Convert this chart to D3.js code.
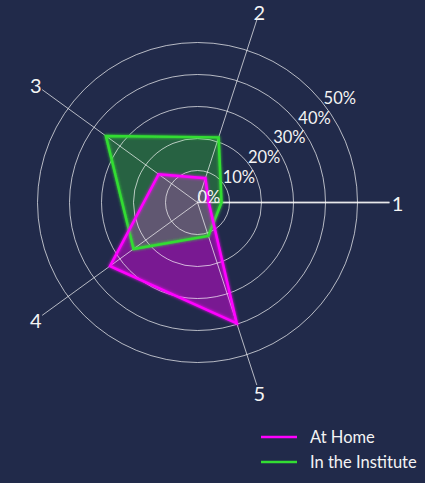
<!DOCTYPE html>
<html>
<head>
<meta charset="utf-8">
<script src="https://cdn.jsdelivr.net/npm/d3@7"></script>
<style>
  body { margin: 0; background: #212a4a; }
  svg { display: block; }
  text { font-family: Lato, "DejaVu Sans", sans-serif; fill: #f4f4f4; }
</style>
</head>
<body>
<svg id="chart"></svg>
<script>
// data (percent of answers per category)
const categories = ['1', '2', '3', '4', '5'];
const atHome = [3.5, 8, 15, 33.8, 39.7];
const inInstitute = [7.5, 21.4, 35.4, 24.7, 11];
const rTicks = [0, 10, 20, 30, 40, 50];
const seriesNames = ['At Home', 'In the Institute'];

const w = 425;
const h = 483;
const cx = 197.5;
const cy = 202.5;

const svg = d3.select('#chart').attr('width', w).attr('height', h);
svg.append('rect').attr('width', w).attr('height', h).attr('fill', '#212a4a');

// glow for the outlines
const defs = svg.append('defs');
const glow = defs.append('filter').attr('id', 'glow')
  .attr('x', '-20%').attr('y', '-20%').attr('width', '140%').attr('height', '140%');
glow.append('feGaussianBlur').attr('stdDeviation', 1.6).attr('result', 'blur');
const merge = glow.append('feMerge');
merge.append('feMergeNode').attr('in', 'blur');
merge.append('feMergeNode').attr('in', 'SourceGraphic');

// scales
const r = d3.scaleLinear().domain([0, 60]).range([0, 192]);
const angle = d3.scaleLinear().domain([0, categories.length]).range([0, 2 * Math.PI]);
// angle counterclockwise from east -> d3 radial angle (clockwise from north)
const radial = (i) => Math.PI / 2 - angle(i);

const g = svg.append('g').attr('transform', `translate(${cx},${cy})`);

// axis 1 baseline (under the fills)
g.append('line')
  .attr('x1', 0).attr('y1', 0)
  .attr('x2', r(60)).attr('y2', 0)
  .attr('stroke', '#b8b8c0')
  .attr('stroke-width', 2);

const line = d3.lineRadial()
  .angle((d, i) => radial(i))
  .radius((d) => r(d))
  .curve(d3.curveLinearClosed);

// fills
g.append('path').attr('d', line(atHome))
  .attr('fill', '#ff00ff').attr('fill-opacity', 0.4);
g.append('path').attr('d', line(inInstitute))
  .attr('fill', '#33cc33').attr('fill-opacity', 0.35);

// grid circles
g.selectAll('.ring')
  .data(rTicks.filter((d) => d > 0))
  .join('circle')
  .attr('class', 'ring')
  .attr('r', (d) => r(d))
  .attr('fill', 'none')
  .attr('stroke', '#ffffff')
  .attr('stroke-opacity', 0.85)
  .attr('stroke-width', 0.8);

// spokes
g.selectAll('.spoke')
  .data(categories)
  .join('line')
  .attr('class', 'spoke')
  .attr('x1', 0).attr('y1', 0)
  .attr('x2', (d, i) => r(60) * Math.cos(angle(i)))
  .attr('y2', (d, i) => -r(60) * Math.sin(angle(i)))
  .attr('stroke', '#ffffff')
  .attr('stroke-opacity', 0.85)
  .attr('stroke-width', 0.8);

// outlines
g.append('path').attr('d', line(inInstitute))
  .attr('fill', 'none').attr('stroke', '#33dd33').attr('stroke-width', 2.5)
  .attr('stroke-linejoin', 'miter').attr('filter', 'url(#glow)');
g.append('path').attr('d', line(atHome))
  .attr('fill', 'none').attr('stroke', '#ff00ff').attr('stroke-width', 2.5)
  .attr('stroke-linejoin', 'miter').attr('filter', 'url(#glow)');

// radial tick labels
const labelAngle = 38 * Math.PI / 180;
g.selectAll('.rlabel')
  .data(rTicks)
  .join('text')
  .attr('class', 'rlabel')
  .attr('x', (d) => r(d) * Math.cos(labelAngle))
  .attr('y', (d) => -r(d) * Math.sin(labelAngle))
  .attr('font-size', 16.5)
  .text((d) => d + '%');

// category labels
g.selectAll('.clabel')
  .data(categories)
  .join('text')
  .attr('class', 'clabel')
  .attr('x', (d, i) => r(62.5) * Math.cos(angle(i)))
  .attr('y', (d, i) => -r(62.5) * Math.sin(angle(i)))
  .attr('text-anchor', 'middle')
  .attr('dominant-baseline', 'central')
  .attr('font-size', 20)
  .text((d) => d);

// legend
const legend = svg.append('g').attr('transform', 'translate(261,437)');
const colors = ['#ff00ff', '#33dd33'];
const items = legend.selectAll('g')
  .data(seriesNames)
  .join('g')
  .attr('transform', (d, i) => `translate(0,${i * 25})`);
items.append('line')
  .attr('x1', 0).attr('x2', 36)
  .attr('stroke', (d, i) => colors[i])
  .attr('stroke-width', 2.5);
items.append('text')
  .attr('x', 49)
  .attr('dy', '0.35em')
  .attr('font-size', 16.5)
  .text((d) => d);
</script>
</body>
</html>
